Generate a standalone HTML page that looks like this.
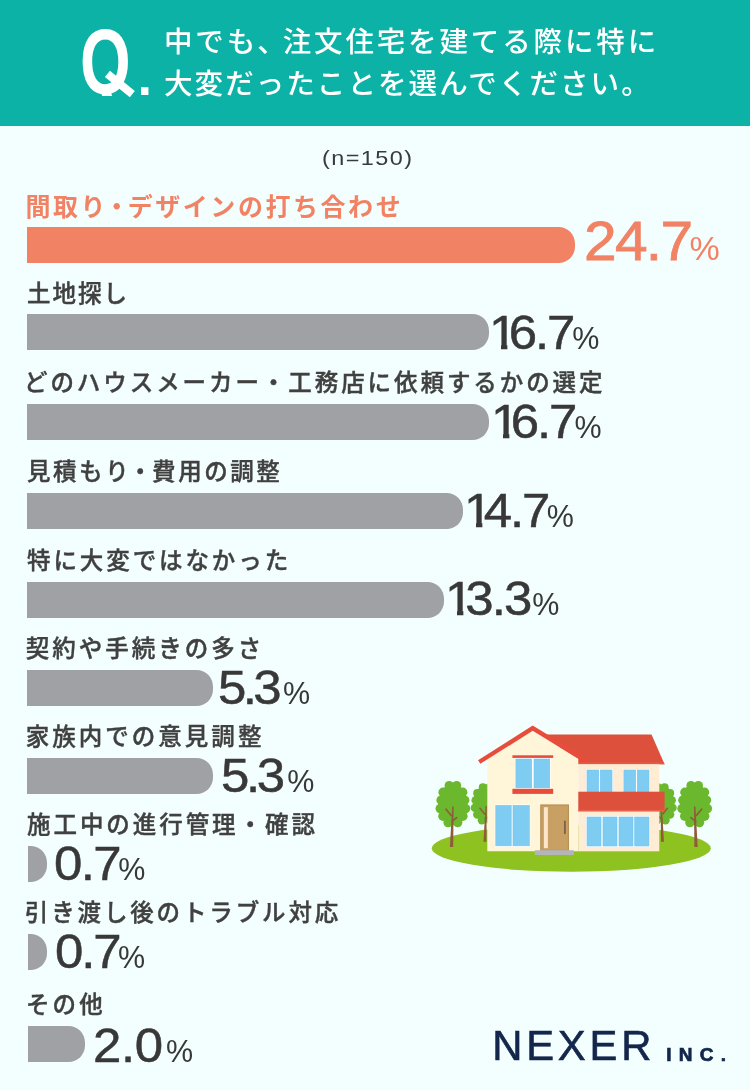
<!DOCTYPE html>
<html lang="ja">
<head>
<meta charset="utf-8">
<title>注文住宅アンケート</title>
<style>
html,body{margin:0;padding:0;}
body{width:750px;height:1090px;position:relative;overflow:hidden;background:#f3fffe;
  font-family:"Liberation Sans","Noto Sans CJK JP",sans-serif;color:#333;}
.abs{position:absolute;white-space:nowrap;}
#hdr{position:absolute;left:0;top:0;width:750px;height:125.7px;background:#0db2a6;}
.qw{position:absolute;left:80.3px;top:15.7px;width:75px;height:80.6px;overflow:hidden;}
.q{position:absolute;left:0;top:0;font-size:93px;line-height:93px;font-weight:bold;color:#fff;transform-origin:0 0;transform:scaleX(.70);}
.qt{position:absolute;left:104px;top:79.7px;width:32px;height:7.6px;background:#fff;transform:rotate(39deg);}
.qd{position:absolute;left:137.4px;top:47.0px;font-size:52px;line-height:60px;font-weight:bold;color:#fff;}
.ht{position:absolute;left:164px;color:#fff;font-size:28.5px;line-height:40px;font-weight:500;letter-spacing:2.47px;white-space:nowrap;font-family:"Noto Sans CJK JP",sans-serif;}
.n{position:absolute;left:322.3px;top:144.2px;font-size:21px;line-height:28px;color:#3a3a3a;letter-spacing:1.3px;white-space:nowrap;transform-origin:0 0;transform:scaleX(1.115);}
.lb{position:absolute;left:26px;font-size:23.5px;line-height:34px;font-weight:500;color:#404040;-webkit-text-stroke:0.4px #404040;letter-spacing:2.2px;white-space:nowrap;font-family:"Noto Sans CJK JP",sans-serif;}
.bar{position:absolute;left:27px;height:35.8px;background:#a0a1a5;border-radius:0 16.5px 16.5px 0;}
.v{position:absolute;font-size:47.6px;line-height:50px;color:#383838;white-space:nowrap;}
.v .d{letter-spacing:-2px;-webkit-text-stroke:0.5px #383838;display:inline-block;transform-origin:0 50%;transform:scaleX(1.07);}
.v.o .d{-webkit-text-stroke:0.8px #f28264;}
.v .one{display:inline-block;line-height:1;height:1em;margin-right:-0.125em;clip-path:polygon(0 0,0.36em 0,0.36em 1em,0.235em 1em,0.235em 0.745em,0 0.745em);}
.v .p{font-size:30.5px;letter-spacing:0;}
#v1{font-size:54.8px;line-height:60px;}
#v1 .p{font-size:34px;}
.lg{color:#13264b;}
.o{color:#f28264 !important;-webkit-text-stroke:0 !important;}
.bar.o{background:#f28264;}
</style>
</head>
<body>
<div id="hdr">
  <div class="qw"><div class="q">Q</div></div><div class="qt"></div><div class="qd">.</div>
  <div class="ht" id="h1" style="top:19.5px;letter-spacing:2.87px">中でも<span style="margin-right:-6px">、</span>注文住宅を建てる際に特に</div>
  <div class="ht" id="h2" style="top:62px;letter-spacing:2.07px">大変だったことを選んでください。</div>
</div>
<div class="n">(n=150)</div>

<div id="l1" class="lb o" style="top:187.5px;left:25.5px;letter-spacing:2.55px;font-weight:700;font-size:25px">間取り<span style="margin:0 -4px">・</span>デザインの打ち合わせ</div>
<div class="bar o" style="top:227.0px;width:548.0px"></div>
<div id="v1" class="v o" style="left:583.5px;top:210.8px"><span class="d" style="letter-spacing:-1.57px">24.7</span><span class="p" style="margin-left:5.7px">%</span></div>

<div id="l2" class="lb" style="top:275.4px;left:27.0px;letter-spacing:2.03px">土地探し</div>
<div class="bar" style="top:314.2px;width:461.8px"></div>
<div id="v2" class="v" style="left:489.0px;top:307.5px"><span class="d" style="letter-spacing:-2.00px"><span class="one">1</span>6.7</span><span class="p" style="margin-left:4.6px">%</span></div>

<div id="l3" class="lb" style="top:364.0px;left:24.0px;letter-spacing:2.93px">どのハウスメーカー・工務店に依頼するかの選定</div>
<div class="bar" style="top:404.0px;width:461.8px"></div>
<div id="v3" class="v" style="left:491.2px;top:396.9px"><span class="d" style="letter-spacing:-2.03px"><span class="one">1</span>6.7</span><span class="p" style="margin-left:4.6px">%</span></div>

<div id="l4" class="lb" style="top:453.2px;left:27.0px;letter-spacing:2.55px">見積もり<span style="margin:0 -2.6px">・</span>費用の調整</div>
<div class="bar" style="top:493.2px;width:435.8px"></div>
<div id="v4" class="v" style="left:464.4px;top:486.4px"><span class="d" style="letter-spacing:-2.03px"><span class="one">1</span>4.7</span><span class="p" style="margin-left:3.7px">%</span></div>

<div id="l5" class="lb" style="top:542.0px;left:27.0px;letter-spacing:2.91px">特に大変ではなかった</div>
<div class="bar" style="top:582.0px;width:416.9px"></div>
<div id="v5" class="v" style="left:445.2px;top:574.2px"><span class="d" style="letter-spacing:-1.66px"><span class="one">1</span>3.3</span><span class="p" style="margin-left:7.1px">%</span></div>

<div id="l6" class="lb" style="top:630.0px;left:25.8px;letter-spacing:3.00px">契約や手続きの多さ</div>
<div class="bar" style="top:670.0px;width:185.8px"></div>
<div id="v6" class="v" style="left:218.4px;top:662.7px"><span class="d" style="letter-spacing:-3.35px">5.3</span><span class="p" style="margin-left:8.5px">%</span></div>

<div id="l7" class="lb" style="top:718.0px;left:25.8px;letter-spacing:3.01px">家族内での意見調整</div>
<div class="bar" style="top:758.0px;width:185.8px"></div>
<div id="v7" class="v" style="left:220.6px;top:750.9px"><span class="d" style="letter-spacing:-3.10px">5.3</span><span class="p" style="margin-left:9.7px">%</span></div>

<div id="l8" class="lb" style="top:806.0px;left:27.0px;letter-spacing:2.94px">施工中の進行管理・確認</div>
<div class="bar" style="top:846.0px;width:19.0px;left:28px"></div>
<div id="v8" class="v" style="left:53.7px;top:838.9px"><span class="d" style="letter-spacing:-1.48px">0.7</span><span class="p" style="margin-left:2.8px">%</span></div>

<div id="l9" class="lb" style="top:894.0px;left:24.8px;letter-spacing:2.86px">引き渡し後のトラブル対応</div>
<div class="bar" style="top:934.0px;width:19.1px;left:28px"></div>
<div id="v9" class="v" style="left:55.0px;top:926.9px"><span class="d" style="letter-spacing:-1.96px">0.7</span><span class="p" style="margin-left:2.8px">%</span></div>

<div id="l10" class="lb" style="top:986.0px;left:26.0px;letter-spacing:3.10px">その他</div>
<div class="bar" style="top:1026.0px;width:56.6px;left:28px"></div>
<div id="v10" class="v" style="left:93.4px;top:1021.0px"><span class="d" style="letter-spacing:-0.35px">2.0</span><span class="p" style="margin-left:7.6px">%</span></div>

<svg id="house" viewBox="425 715 295 165" width="295" height="165" style="position:absolute;left:425px;top:715px">
<ellipse cx="571.3" cy="848.3" rx="139.5" ry="23.4" fill="#8dc220"/>
<g transform="translate(83.06 88.11) scale(0.89)"><g fill="#6bb82e"><ellipse cx="452.9" cy="804.2" rx="14.3" ry="20.8"/><circle cx="449.2" cy="785.6" r="4.6"/><circle cx="456.6" cy="785.6" r="4.6"/><circle cx="443.0" cy="792.2" r="4.6"/><circle cx="462.8" cy="792.2" r="4.6"/><circle cx="441.2" cy="800.2" r="4.8"/><circle cx="464.6" cy="800.2" r="4.8"/><circle cx="440.3" cy="808.6" r="4.8"/><circle cx="465.5" cy="808.6" r="4.8"/><circle cx="443.0" cy="816.2" r="4.8"/><circle cx="462.8" cy="816.2" r="4.8"/><circle cx="448.1" cy="822.6" r="4.7"/><circle cx="457.7" cy="822.6" r="4.7"/></g><path d="M452.2 806.5 L453.6 806.5 L453.2 846.9 L449.9 846.9 Z" fill="#8f5b3b"/><path d="M446 809.2 L451.2 815.5 M456.7 817.6 L452 821.4" stroke="#8f5b3b" stroke-width="1.7" stroke-linecap="round" fill="none"/></g><g transform="translate(1147.40 0) scale(-1 1)"><g transform="translate(83.06 88.11) scale(0.89)"><g fill="#6bb82e"><ellipse cx="452.9" cy="804.2" rx="14.3" ry="20.8"/><circle cx="449.2" cy="785.6" r="4.6"/><circle cx="456.6" cy="785.6" r="4.6"/><circle cx="443.0" cy="792.2" r="4.6"/><circle cx="462.8" cy="792.2" r="4.6"/><circle cx="441.2" cy="800.2" r="4.8"/><circle cx="464.6" cy="800.2" r="4.8"/><circle cx="440.3" cy="808.6" r="4.8"/><circle cx="465.5" cy="808.6" r="4.8"/><circle cx="443.0" cy="816.2" r="4.8"/><circle cx="462.8" cy="816.2" r="4.8"/><circle cx="448.1" cy="822.6" r="4.7"/><circle cx="457.7" cy="822.6" r="4.7"/></g><path d="M452.2 806.5 L453.6 806.5 L453.2 846.9 L449.9 846.9 Z" fill="#8f5b3b"/><path d="M446 809.2 L451.2 815.5 M456.7 817.6 L452 821.4" stroke="#8f5b3b" stroke-width="1.7" stroke-linecap="round" fill="none"/></g></g>
<g fill="#6bb82e"><ellipse cx="452.9" cy="804.2" rx="14.3" ry="20.8"/><circle cx="449.2" cy="785.6" r="4.6"/><circle cx="456.6" cy="785.6" r="4.6"/><circle cx="443.0" cy="792.2" r="4.6"/><circle cx="462.8" cy="792.2" r="4.6"/><circle cx="441.2" cy="800.2" r="4.8"/><circle cx="464.6" cy="800.2" r="4.8"/><circle cx="440.3" cy="808.6" r="4.8"/><circle cx="465.5" cy="808.6" r="4.8"/><circle cx="443.0" cy="816.2" r="4.8"/><circle cx="462.8" cy="816.2" r="4.8"/><circle cx="448.1" cy="822.6" r="4.7"/><circle cx="457.7" cy="822.6" r="4.7"/></g><path d="M452.2 806.5 L453.6 806.5 L453.2 846.9 L449.9 846.9 Z" fill="#8f5b3b"/><path d="M446 809.2 L451.2 815.5 M456.7 817.6 L452 821.4" stroke="#8f5b3b" stroke-width="1.7" stroke-linecap="round" fill="none"/><g transform="translate(1147.60 0) scale(-1 1)"><g fill="#6bb82e"><ellipse cx="452.9" cy="804.2" rx="14.3" ry="20.8"/><circle cx="449.2" cy="785.6" r="4.6"/><circle cx="456.6" cy="785.6" r="4.6"/><circle cx="443.0" cy="792.2" r="4.6"/><circle cx="462.8" cy="792.2" r="4.6"/><circle cx="441.2" cy="800.2" r="4.8"/><circle cx="464.6" cy="800.2" r="4.8"/><circle cx="440.3" cy="808.6" r="4.8"/><circle cx="465.5" cy="808.6" r="4.8"/><circle cx="443.0" cy="816.2" r="4.8"/><circle cx="462.8" cy="816.2" r="4.8"/><circle cx="448.1" cy="822.6" r="4.7"/><circle cx="457.7" cy="822.6" r="4.7"/></g><path d="M452.2 806.5 L453.6 806.5 L453.2 846.9 L449.9 846.9 Z" fill="#8f5b3b"/><path d="M446 809.2 L451.2 815.5 M456.7 817.6 L452 821.4" stroke="#8f5b3b" stroke-width="1.7" stroke-linecap="round" fill="none"/></g>
<polygon points="546,734.5 651.5,734.5 664.6,764.3 578,764.3" fill="#dc503c"/>
<polygon points="578,762.3 663.7,762.3 664.6,764.3 578,764.3" fill="#e8583f"/>
<rect x="578.3" y="764.3" width="81" height="87" fill="#feecd4"/>
<polygon points="487.3,851.2 487.3,759 532.7,730.8 578.3,758.6 578.3,851.2" fill="#fff5d9"/>
<polygon points="478,760.3 532.7,725.4 587.6,759 585.2,763 532.7,730.8 480.4,763.8" fill="#e84d3b"/>
<rect x="512.4" y="755.3" width="40.8" height="2.6" fill="#e84d3b"/>
<rect x="514.9" y="758.0" width="35.8" height="30.8" fill="#fff"/><rect x="515.9" y="759.0" width="15.7" height="28.8" fill="#7fccf3" stroke="#6fc2ef" stroke-width="0.6"/><rect x="534.0" y="759.0" width="15.7" height="28.8" fill="#7fccf3" stroke="#6fc2ef" stroke-width="0.6"/>
<rect x="512.4" y="788.8" width="40.8" height="5.1" fill="#e84d3b"/>
<rect x="494.8" y="804.5" width="35.5" height="42.3" fill="#fff"/><rect x="495.8" y="805.5" width="15.4" height="40.3" fill="#7fccf3" stroke="#6fc2ef" stroke-width="0.6"/><rect x="513.0" y="805.5" width="16.3" height="40.3" fill="#7fccf3" stroke="#6fc2ef" stroke-width="0.6"/>
<rect x="540.8" y="805" width="27.6" height="45.5" fill="#c8a063" stroke="#b98f55" stroke-width="1.2"/>
<rect x="543.9" y="807.2" width="4" height="41" fill="#fbe6cc"/>
<rect x="564" y="820.5" width="1.8" height="13.5" rx="0.6" fill="#7b6248"/>
<rect x="534.9" y="850.2" width="39" height="4.8" fill="#b5b5b9"/>
<rect x="586.0" y="769.0" width="27.0" height="23.7" fill="#fff"/><rect x="587.0" y="770.0" width="11.7" height="21.7" fill="#7fccf3" stroke="#6fc2ef" stroke-width="0.6"/><rect x="600.3" y="770.0" width="11.7" height="21.7" fill="#7fccf3" stroke="#6fc2ef" stroke-width="0.6"/>
<rect x="622.9" y="769.0" width="27.1" height="23.7" fill="#fff"/><rect x="623.9" y="770.0" width="11.8" height="21.7" fill="#7fccf3" stroke="#6fc2ef" stroke-width="0.6"/><rect x="637.3" y="770.0" width="11.7" height="21.7" fill="#7fccf3" stroke="#6fc2ef" stroke-width="0.6"/>
<rect x="578.3" y="791.7" width="86.3" height="19.6" fill="#dc503c"/>
<rect x="578.3" y="809.8" width="86.3" height="1.5" fill="#e8604a"/>
<rect x="586.0" y="816.0" width="64.0" height="31.0" fill="#fff"/><rect x="587.0" y="817.0" width="14.0" height="29.0" fill="#7fccf3" stroke="#6fc2ef" stroke-width="0.6"/><rect x="603.0" y="817.0" width="14.0" height="29.0" fill="#7fccf3" stroke="#6fc2ef" stroke-width="0.6"/><rect x="619.0" y="817.0" width="14.0" height="29.0" fill="#7fccf3" stroke="#6fc2ef" stroke-width="0.6"/><rect x="634.7" y="817.0" width="14.3" height="29.0" fill="#7fccf3" stroke="#6fc2ef" stroke-width="0.6"/>
</svg>
<div class="abs lg" id="lg1" style="left:492.2px;top:1021.2px;font-size:41.8px;line-height:50px;letter-spacing:3.80px;-webkit-text-stroke:0.6px #13264b;">NEXER</div>
<div class="abs lg" id="lg2" style="left:666.2px;top:1042.6px;font-size:19px;line-height:24px;font-weight:bold;letter-spacing:7.3px;-webkit-text-stroke:0.7px #13264b;">INC.</div>
</body>
</html>
